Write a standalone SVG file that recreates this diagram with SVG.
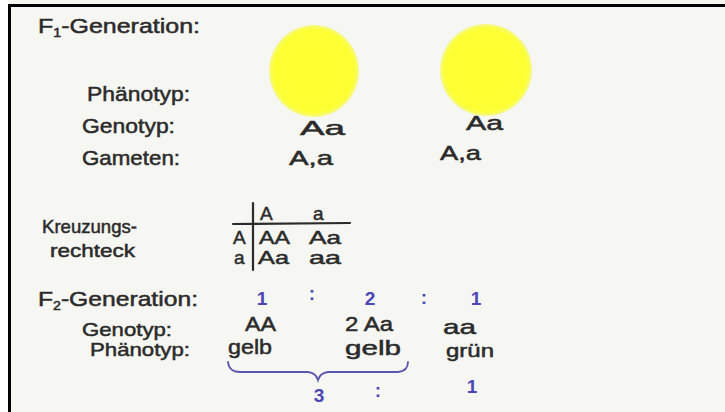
<svg xmlns="http://www.w3.org/2000/svg" width="725" height="412" viewBox="0 0 725 412">
<defs>
<style>
.t{font-family:"Liberation Sans","DejaVu Sans",sans-serif;fill:#2b2b2b;font-size:21px;stroke:#2b2b2b;stroke-width:0.5}
.m{font-size:19px}
.s{font-size:19px}
.b{font-family:"Liberation Sans","DejaVu Sans",sans-serif;fill:#4b46b4;font-size:19px;font-weight:bold}
.ln{stroke:#2b2b2b;stroke-width:2.2;fill:none;stroke-linecap:round}
</style>
<radialGradient id="yel" cx="0.5" cy="0.5" r="0.5">
<stop offset="0" stop-color="#ffff2e"/>
<stop offset="0.9" stop-color="#fcff33"/>
<stop offset="1" stop-color="#f6f88a"/>
</radialGradient>
</defs>
<rect x="0" y="0" width="725" height="412" fill="#f6f6f2"/>
<rect x="0" y="0" width="8" height="412" fill="#ffffff"/>
<rect x="8" y="4" width="717" height="3" fill="#000"/>
<rect x="8" y="4" width="3" height="408" fill="#000"/>

<g id="f1-title"><text class="t" x="38" y="33" textLength="162" lengthAdjust="spacingAndGlyphs">F<tspan font-size="12" dy="4">1</tspan><tspan dy="-4">-Generation:</tspan></text></g>
<g id="circle-left"><ellipse cx="314" cy="71" rx="45" ry="46" fill="url(#yel)"/></g>
<g id="circle-right"><ellipse cx="486" cy="70" rx="46" ry="46" fill="url(#yel)"/></g>
<g id="f1-labels">
<text class="t" x="87" y="101" textLength="103" lengthAdjust="spacingAndGlyphs">Phänotyp:</text>
<text class="t" x="82" y="133" textLength="93" lengthAdjust="spacingAndGlyphs">Genotyp:</text>
<text class="t" x="82" y="165" textLength="98" lengthAdjust="spacingAndGlyphs">Gameten:</text>
</g>
<g id="f1-left">
<text class="t" x="300" y="135" textLength="45" lengthAdjust="spacingAndGlyphs">Aa</text>
<text class="t" x="289" y="165" textLength="44" lengthAdjust="spacingAndGlyphs">A,a</text>
</g>
<g id="f1-right">
<text class="t" x="466" y="130" textLength="37" lengthAdjust="spacingAndGlyphs">Aa</text>
<text class="t" x="440" y="160" textLength="41" lengthAdjust="spacingAndGlyphs">A,a</text>
</g>

<g id="kreuzung-label">
<text class="t m" x="42" y="233" textLength="95" lengthAdjust="spacingAndGlyphs">Kreuzungs-</text>
<text class="t m" x="50" y="257" textLength="85" lengthAdjust="spacingAndGlyphs">rechteck</text>
</g>
<g id="punnett">
<path class="ln" d="M253 203 L253 270 M233 224 L350 223"/>
<text class="t s" x="260" y="220">A</text>
<text class="t s" x="313" y="220">a</text>
<text class="t s" x="233" y="244">A</text>
<text class="t s" x="259" y="244" textLength="31" lengthAdjust="spacingAndGlyphs">AA</text>
<text class="t s" x="309" y="244" textLength="32" lengthAdjust="spacingAndGlyphs">Aa</text>
<text class="t s" x="234" y="264">a</text>
<text class="t s" x="258" y="264" textLength="31" lengthAdjust="spacingAndGlyphs">Aa</text>
<text class="t s" x="309" y="264" textLength="32" lengthAdjust="spacingAndGlyphs">aa</text>
</g>

<g id="f2-title"><text class="t" x="38" y="306" textLength="160" lengthAdjust="spacingAndGlyphs">F<tspan font-size="12" dy="4">2</tspan><tspan dy="-4">-Generation:</tspan></text></g>
<g id="ratio-top">
<text class="b" x="262" y="305" text-anchor="middle">1</text>
<text class="b" x="312" y="300" text-anchor="middle">:</text>
<text class="b" x="370" y="305" text-anchor="middle">2</text>
<text class="b" x="424" y="304" text-anchor="middle">:</text>
<text class="b" x="476" y="305" text-anchor="middle">1</text>
</g>
<g id="f2-labels">
<text class="t m" x="82" y="336" textLength="90" lengthAdjust="spacingAndGlyphs">Genotyp:</text>
<text class="t m" x="90" y="356" textLength="100" lengthAdjust="spacingAndGlyphs">Phänotyp:</text>
</g>
<g id="f2-genotypes">
<text class="t" x="245" y="331" textLength="31" lengthAdjust="spacingAndGlyphs">AA</text>
<text class="t" x="345" y="331" textLength="48" lengthAdjust="spacingAndGlyphs">2 Aa</text>
<text class="t" x="443" y="334" textLength="33" lengthAdjust="spacingAndGlyphs">aa</text>
</g>
<g id="f2-phenotypes">
<text class="t" x="228" y="354" textLength="44" lengthAdjust="spacingAndGlyphs">gelb</text>
<text class="t" x="345" y="355" textLength="56" lengthAdjust="spacingAndGlyphs">gelb</text>
<text class="t m" x="446" y="357" textLength="48" lengthAdjust="spacingAndGlyphs">grün</text>
</g>
<g id="connectors">
<path d="M228 362 Q229 372 240 372 L308 372 Q316 373 318 380 Q320 373 328 372 L398 372 Q408 371 408 362" fill="none" stroke="#5a56b0" stroke-width="1.8" stroke-linecap="round"/>
</g>
<g id="ratio-bottom">
<text class="b" x="319" y="402" text-anchor="middle">3</text>
<text class="b" x="378" y="397" text-anchor="middle">:</text>
<text class="b" x="472" y="393" text-anchor="middle">1</text>
</g>
</svg>
